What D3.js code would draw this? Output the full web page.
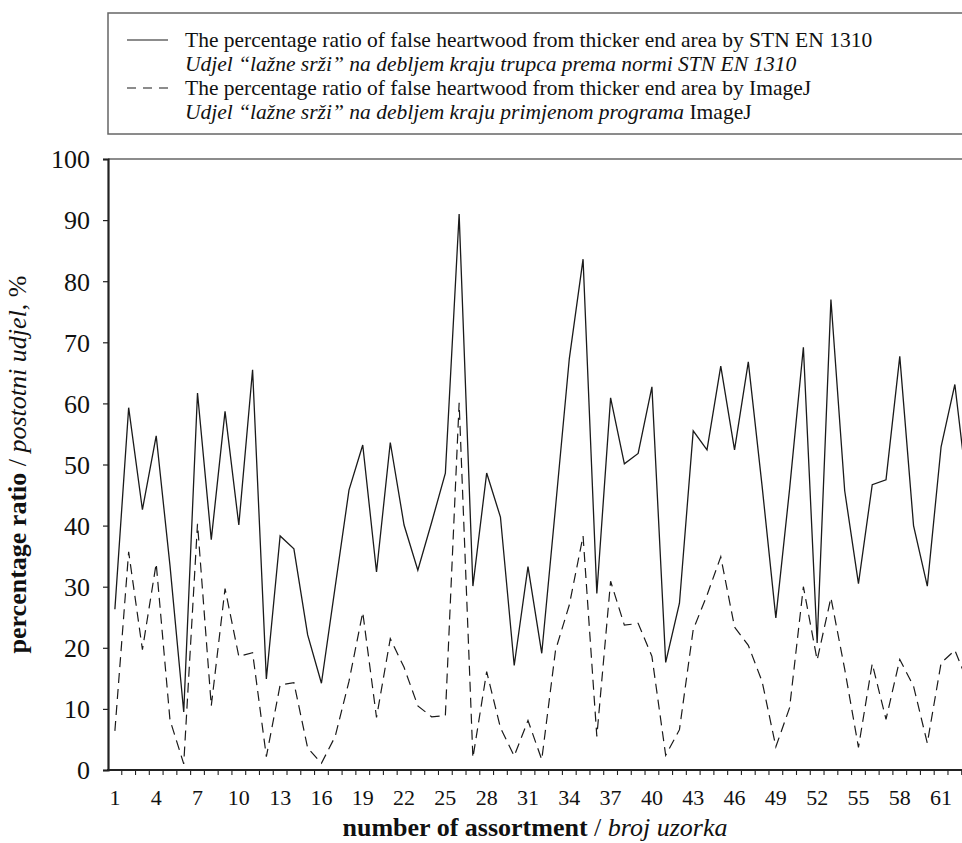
<!DOCTYPE html>
<html>
<head>
<meta charset="utf-8">
<script src="https://cdn.jsdelivr.net/npm/d3@7"></script>
<style>
  html, body { margin: 0; padding: 0; background: #fff; }
  svg { display: block; }
  svg text { font-family: "Liberation Serif", "Times New Roman", "DejaVu Serif", serif; }
</style>
</head>
<body>
<svg id="chart" width="962" height="843"></svg>
<script>
// ---- data ----
const samples = d3.range(1, 64); // sample numbers 1..63 (63 is clipped at the right edge)
const stnValues = [
  26.3, 59.3, 42.6, 54.7, 33.5, 9.5, 61.7, 37.7, 58.7, 40.1,
  65.5, 14.9, 38.3, 36.2, 22.1, 14.2, 30.0, 45.8, 53.2, 32.4,
  53.6, 40.1, 32.7, 40.5, 48.6, 91.0, 30.1, 48.6, 41.4, 17.1,
  33.3, 19.1, 43.0, 67.3, 83.6, 28.9, 60.9, 50.1, 51.8, 62.7,
  17.6, 27.3, 55.5, 52.4, 66.1, 52.4, 66.8, 46.5, 24.9, 46.0,
  69.2, 20.8, 77.0, 45.7, 30.5, 46.7, 47.5, 67.7, 40.0, 30.1,
  52.9, 63.1, 44.0
];
const imagejValues = [
  6.4, 35.7, 19.7, 33.8, 8.2, 1.0, 40.3, 10.5, 29.7, 18.6,
  19.2, 2.2, 13.9, 14.3, 3.6, 1.1, 5.5, 14.5, 25.8, 8.6,
  21.5, 16.8, 10.5, 8.7, 8.9, 60.1, 2.0, 16.1, 6.9, 2.3,
  8.1, 1.7, 19.6, 27.0, 38.3, 5.5, 30.9, 23.7, 24.0, 18.6,
  2.4, 6.6, 23.0, 28.6, 34.9, 23.4, 20.4, 14.5, 3.8, 10.2,
  30.0, 18.0, 28.2, 16.5, 3.7, 17.4, 8.3, 18.1, 13.7, 4.4,
  17.5, 19.6, 14.0
];
const xTickLabels = [1, 4, 7, 10, 13, 16, 19, 22, 25, 28, 31, 34, 37, 40, 43, 46, 49, 52, 55, 58, 61];
const yTickLabels = [0, 10, 20, 30, 40, 50, 60, 70, 80, 90, 100];
const legendItems = [
  { en: "The percentage ratio of false heartwood from thicker end area by STN EN 1310",
    hr: [["Udjel “lažne srži” na debljem kraju trupca prema normi STN EN 1310", true]], dash: null },
  { en: "The percentage ratio of false heartwood from thicker end area by ImageJ",
    hr: [["Udjel “lažne srži” na debljem kraju primjenom programa ", true], ["ImageJ", false]], dash: "9,7" }
];

// ---- layout ----
const svg = d3.select("#chart");
const W = 962;
const plot = { left: 108, top: 159, bottom: 770, step: 13.77 };

const x = d3.scaleBand()
  .domain(samples)
  .range([plot.left, plot.left + plot.step * samples.length])
  .paddingInner(0).paddingOuter(0);
const y = d3.scaleLinear().domain([0, 100]).range([plot.bottom, plot.top]);
const cx = d => x(d) + x.bandwidth() / 2;

// clip for plot area
svg.append("defs").append("clipPath").attr("id", "plotclip")
  .append("rect").attr("x", plot.left).attr("y", plot.top - 5)
  .attr("width", W - plot.left).attr("height", plot.bottom - plot.top + 10);

// top frame line
svg.append("line")
  .attr("x1", plot.left).attr("x2", W)
  .attr("y1", y(100)).attr("y2", y(100))
  .attr("stroke", "#666").attr("stroke-width", 1.5);

// lines
const lineGen = d3.line().x((d, i) => cx(samples[i])).y(d => y(d));
const g = svg.append("g").attr("clip-path", "url(#plotclip)");
g.append("path").datum(stnValues)
  .attr("d", lineGen).attr("fill", "none")
  .attr("stroke", "#1a1a1a").attr("stroke-width", 1.3).attr("stroke-linejoin", "miter");
g.append("path").datum(imagejValues)
  .attr("d", lineGen).attr("fill", "none")
  .attr("stroke", "#1a1a1a").attr("stroke-width", 1.2)
  .attr("stroke-dasharray", "10,6");

// y axis
const yAxis = d3.axisLeft(y).tickValues(yTickLabels).tickSize(5).tickPadding(13).tickFormat(d3.format("d"));
const ya = svg.append("g").attr("transform", `translate(${plot.left},0)`).call(yAxis);
ya.select(".domain").attr("stroke", "#222").attr("stroke-width", 2.2);
ya.selectAll(".tick line").attr("stroke", "#222").attr("stroke-width", 1.2);
ya.selectAll(".tick text").attr("font-size", 26).attr("fill", "#111").attr("dy", "0.34em");

// x axis line
svg.append("line")
  .attr("x1", plot.left - 1).attr("x2", W)
  .attr("y1", plot.bottom).attr("y2", plot.bottom)
  .attr("stroke", "#222").attr("stroke-width", 2.2);

// x ticks at band boundaries
svg.append("g").selectAll("line").data(samples).join("line")
  .attr("x1", d => x(d) + x.bandwidth()).attr("x2", d => x(d) + x.bandwidth())
  .attr("y1", plot.bottom).attr("y2", plot.bottom + 5)
  .attr("stroke", "#222").attr("stroke-width", 1.1);

// x tick labels
svg.append("g").selectAll("text").data(xTickLabels).join("text")
  .attr("x", d => cx(d)).attr("y", plot.bottom + 35)
  .attr("text-anchor", "middle")
  .attr("font-size", 22).attr("fill", "#111")
  .text(d => d);

// x axis title
const xt = svg.append("text")
  .attr("x", (plot.left + W) / 2).attr("y", 836)
  .attr("text-anchor", "middle").attr("font-size", 26).attr("fill", "#111");
xt.append("tspan").attr("font-weight", "bold").text("number of assortment");
xt.append("tspan").text(" / ");
xt.append("tspan").attr("font-style", "italic").text("broj uzorka");

// y axis title
const yt = svg.append("text")
  .attr("transform", `translate(26, ${(plot.top + plot.bottom) / 2}) rotate(-90)`)
  .attr("text-anchor", "middle").attr("font-size", 26).attr("fill", "#111");
yt.append("tspan").attr("font-weight", "bold").text("percentage ratio");
yt.append("tspan").text(" / ");
yt.append("tspan").attr("font-style", "italic").text("postotni udjel");
yt.append("tspan").text(", %");

// legend
const leg = svg.append("g");
leg.append("rect")
  .attr("x", 108).attr("y", 13).attr("width", 870).attr("height", 121)
  .attr("fill", "#fff").attr("stroke", "#666").attr("stroke-width", 1.5);
const rowY = [40, 64, 88, 112];
legendItems.forEach((it, i) => {
  const yy = rowY[i * 2];
  leg.append("line")
    .attr("x1", 127).attr("x2", 168).attr("y1", yy).attr("y2", yy)
    .attr("stroke", "#1a1a1a").attr("stroke-width", 1.2)
    .attr("stroke-dasharray", it.dash);
  leg.append("text").attr("x", 185).attr("y", yy + 7)
    .attr("font-size", 21.5).attr("fill", "#111").text(it.en);
  const t2 = leg.append("text").attr("x", 185).attr("y", rowY[i * 2 + 1] + 7)
    .attr("font-size", 21.5).attr("fill", "#111");
  it.hr.forEach(([s, ital]) => t2.append("tspan").attr("font-style", ital ? "italic" : "normal").text(s));
});
</script>
</body>
</html>
